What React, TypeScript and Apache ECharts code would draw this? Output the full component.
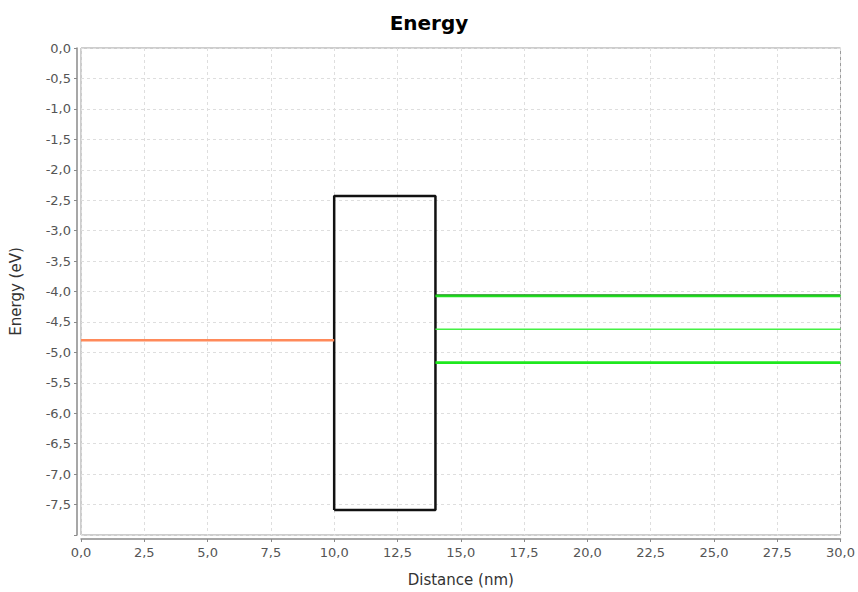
import React, { useEffect, useRef } from "react";
import * as echarts from "echarts";

const titleText = "Energy";
const xAxisName = "Distance (nm)";
const yAxisName = "Energy (eV)";

const barrierX = [10, 10, 14, 14, 10];
const barrierY = [-7.59, -2.43, -2.43, -7.59, -7.59];

const metalX = [0, 10];
const metalY = [-4.8, -4.8];

const levelX = [14, 30];
const levelTopDark = -4.06;
const levelTopBright = -4.08;
const levelMid = -4.62;
const levelLow = -5.17;

const fmt = (v: number) => v.toFixed(1).replace(".", ",");

export default function App() {
  const ref = useRef<HTMLDivElement>(null);
  useEffect(() => {
    if (!ref.current) return;
    const chart = echarts.init(ref.current, undefined, { renderer: "svg" });
    const font = "DejaVu Sans, Verdana, sans-serif";
    const hline = (y: number) => levelX.map((x) => [x, y]);
    chart.setOption({
      animation: false,
      backgroundColor: "#ffffff",
      title: {
        text: titleText,
        left: "center",
        top: 8,
        textStyle: { fontFamily: font, fontWeight: "bold", fontSize: 20, color: "#000" },
      },
      grid: {
        left: 75,
        right: 12,
        top: 48,
        bottom: 52,
        show: true,
        borderColor: "#9a9a9a",
        borderWidth: 1,
        backgroundColor: "#fff",
      },
      xAxis: {
        type: "value",
        min: 0,
        max: 30,
        interval: 2.5,
        offset: 4,
        name: xAxisName,
        nameLocation: "middle",
        nameGap: 33,
        nameTextStyle: { fontFamily: font, fontSize: 15, color: "#333" },
        axisLine: { show: true, onZero: false, lineStyle: { color: "#8a8a8a", width: 1.5 } },
        axisTick: { show: true, length: 3, lineStyle: { color: "#8a8a8a" } },
        axisLabel: {
          formatter: (v: number) => fmt(v),
          fontFamily: font,
          fontSize: 13,
          color: "#555",
          margin: 7,
        },
        splitLine: { show: true, lineStyle: { color: "#dedede", type: [3, 3], width: 1 } },
      },
      yAxis: {
        type: "value",
        min: -8,
        max: 0,
        interval: 0.5,
        offset: 4,
        name: yAxisName,
        nameLocation: "middle",
        nameGap: 54,
        nameRotate: 90,
        nameTextStyle: { fontFamily: font, fontSize: 15, color: "#333" },
        axisLine: { show: true, onZero: false, lineStyle: { color: "#8a8a8a", width: 1.5 } },
        axisTick: { show: true, length: 3, lineStyle: { color: "#8a8a8a" } },
        axisLabel: {
          formatter: (v: number) => (v <= -7.99 ? "" : fmt(v)),
          fontFamily: font,
          fontSize: 13,
          color: "#555",
          margin: 6,
        },
        splitLine: { show: true, lineStyle: { color: "#dedede", type: [3, 3], width: 1 } },
      },
      series: [
        {
          type: "line",
          data: barrierX.map((x, i) => [x, barrierY[i]]),
          showSymbol: false,
          lineStyle: { color: "#111", width: 2.5 },
        },
        {
          type: "line",
          data: metalX.map((x, i) => [x, metalY[i]]),
          showSymbol: false,
          lineStyle: { color: "#ff8a5a", width: 2.5 },
        },
        {
          type: "line",
          data: hline(levelTopDark),
          showSymbol: false,
          lineStyle: { color: "#128f12", width: 2 },
        },
        {
          type: "line",
          data: hline(levelTopBright),
          showSymbol: false,
          lineStyle: { color: "#22e022", width: 2 },
        },
        {
          type: "line",
          data: hline(levelMid),
          showSymbol: false,
          lineStyle: { color: "#44f044", width: 1.5 },
        },
        {
          type: "line",
          data: hline(levelLow),
          showSymbol: false,
          lineStyle: { color: "#1ee81e", width: 2.8 },
        },
      ],
    });
    return () => chart.dispose();
  }, []);
  return (
    <div
      ref={ref}
      style={{ position: "fixed", left: 0, top: 0, width: 858, height: 592, background: "#fff" }}
    />
  );
}
